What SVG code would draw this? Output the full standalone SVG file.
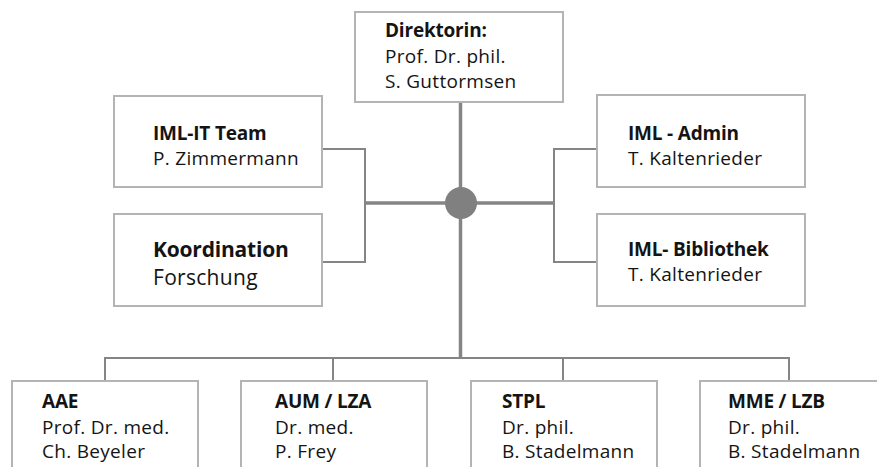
<svg xmlns="http://www.w3.org/2000/svg" width="877" height="467" viewBox="0 0 877 467">
<style>
.box{fill:#fff;stroke:#b4b4b4;stroke-width:2}
.t{font-family:"Open Sans","Liberation Sans",sans-serif;font-size:19px;fill:#141414;letter-spacing:0.3px}
.b{font-weight:bold;letter-spacing:-0.2px}
.big{font-size:21px}
.c{fill:none;stroke:#858585;stroke-width:2}
.m{fill:none;stroke:#858585;stroke-width:3.5}
</style>
<rect width="877" height="467" fill="#fff"/>
<g id="connectors">
<path class="m" d="M460.5 103 V358"/>
<path class="m" d="M365 203 H554"/>
<path class="c" d="M322 149 H365 V262 H322"/>
<path class="c" d="M597 149 H554 V262 H597"/>
<path class="c" d="M105 381 V358 H789 V381"/>
<path class="c" d="M333 358 V381"/>
<path class="c" d="M563 358 V381"/>
<circle cx="461" cy="203" r="16" fill="#808080"/>
</g>
<g id="direktorin">
<rect class="box" x="355" y="12" width="208" height="90"/>
<text class="t b" x="385" y="37">Direktorin:</text>
<text class="t" x="385" y="63">Prof. Dr. phil.</text>
<text class="t" x="385" y="88">S. Guttormsen</text>
</g>
<g id="iml-it">
<rect class="box" x="114" y="96" width="208" height="91"/>
<text class="t b" x="153" y="140">IML-IT Team</text>
<text class="t" x="153" y="165">P. Zimmermann</text>
</g>
<g id="koordination">
<rect class="box" x="114" y="214" width="208" height="92"/>
<text class="t big b" x="153" y="257">Koordination</text>
<text class="t big" x="153" y="285">Forschung</text>
</g>
<g id="iml-admin">
<rect class="box" x="597" y="95" width="208" height="92"/>
<text class="t b" x="628" y="140">IML - Admin</text>
<text class="t" x="628" y="165">T. Kaltenrieder</text>
</g>
<g id="iml-bibliothek">
<rect class="box" x="597" y="214" width="208" height="92"/>
<text class="t b" x="628" y="256">IML- Bibliothek</text>
<text class="t" x="628" y="281">T. Kaltenrieder</text>
</g>
<g id="aae">
<rect class="box" x="12" y="381" width="186" height="100"/>
<text class="t b" x="42" y="408">AAE</text>
<text class="t" x="42" y="434">Prof. Dr. med.</text>
<text class="t" x="42" y="458">Ch. Beyeler</text>
</g>
<g id="aum">
<rect class="box" x="241" y="381" width="186" height="100"/>
<text class="t b" x="275" y="408">AUM / LZA</text>
<text class="t" x="275" y="434">Dr. med.</text>
<text class="t" x="275" y="458">P. Frey</text>
</g>
<g id="stpl">
<rect class="box" x="471" y="381" width="186" height="100"/>
<text class="t b" x="502" y="408">STPL</text>
<text class="t" x="502" y="434">Dr. phil.</text>
<text class="t" x="502" y="458">B. Stadelmann</text>
</g>
<g id="mme">
<rect class="box" x="700" y="381" width="186" height="100"/>
<text class="t b" x="728" y="408">MME / LZB</text>
<text class="t" x="728" y="434">Dr. phil.</text>
<text class="t" x="728" y="458">B. Stadelmann</text>
</g>
</svg>
